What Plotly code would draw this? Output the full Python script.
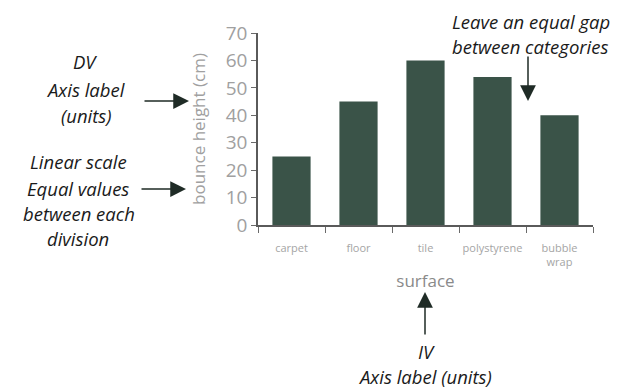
import plotly.graph_objects as go

surfaces = ["carpet", "floor", "tile", "polystyrene", "bubble<br>wrap"]
bounce_height = [25, 45, 60, 54, 40]
y_ticks = [0, 10, 20, 30, 40, 50, 60, 70]

# page body has an 8px margin: work in screen pixels, convert to figure pixels
OFF = 8
L, R, T, B = 258 - OFF, 593 - OFF, 33 - OFF, 225 - OFF
W, H = 621 - OFF, 390 - OFF


def px(x):
    return (x - OFF - L) / (R - L)


def py(y):
    return (B - (y - OFF)) / (B - T)


fig = go.Figure()
fig.add_trace(go.Bar(x=surfaces, y=bounce_height, marker=dict(color="#3a5348", line=dict(width=0)),
                     width=0.57))

note_font = dict(family="'Open Sans', Lato, sans-serif", size=18.5, color="#1a1a1a")
arrow_col = "#1f2b26"

annotations = []
text_lines = [
    ("DV", 85, 61), ("Axis label", 85, 89), ("(units)", 86, 115),
    ("Linear scale", 78, 161), ("Equal values", 78, 188), ("between each", 79, 213), ("division", 78, 238),
    ("Leave an equal gap", 531, 22), ("between categories", 530, 47),
    ("IV", 426, 351), ("Axis label (units)", 425, 376),
]
for t, x, y in text_lines:
    annotations.append(dict(text="<i>" + t + "</i>", x=px(x), y=py(y), xref="paper", yref="paper",
                            showarrow=False, xanchor="center", yanchor="middle", font=note_font,
                            borderpad=0))

arrows = [
    (189, 101, -46, 0),
    (186, 189, -46, 0),
    (528, 101, 0, -46),
    (425, 292, 0, 44),
]
for x, y, ax, ay in arrows:
    annotations.append(dict(text="", x=px(x), y=py(y), xref="paper", yref="paper", showarrow=True,
                            ax=ax, ay=ay, axref="pixel", ayref="pixel", arrowhead=2, arrowsize=2.1,
                            arrowwidth=1.5, arrowcolor=arrow_col, standoff=0, startstandoff=0))

fig.update_layout(
    width=W, height=H,
    margin=dict(l=L, r=W - R, t=T, b=H - B),
    paper_bgcolor="white", plot_bgcolor="white",
    showlegend=False,
    bargap=0.43,
    font=dict(family="'Open Sans', sans-serif", color="#9a9a9a"),
    annotations=annotations,
    xaxis=dict(
        showline=True, linecolor="#5a5a5a", linewidth=1.5,
        ticks="outside", ticklen=6, tickcolor="#6a6a6a", tickwidth=1.2,
        tickson="boundaries", ticklabelstandoff=12, tickangle=0,
        tickfont=dict(size=11, color="#a5a5a5"),
        title=dict(text="surface", font=dict(size=17, color="#8a8a8a"), standoff=7),
        showgrid=False, zeroline=False, fixedrange=True,
    ),
    yaxis=dict(
        range=[0, 70], tickvals=y_ticks,
        showline=True, linecolor="#5a5a5a", linewidth=1.5,
        ticks="outside", ticklen=5, tickcolor="#6a6a6a", tickwidth=1.2,
        tickfont=dict(size=19, color="#a0a0a0"),
        title=dict(text="bounce height (cm)", font=dict(size=17, color="#a0a0a0"), standoff=16),
        showgrid=False, zeroline=False, fixedrange=True,
    ),
)

fig.write_html("out.html")
